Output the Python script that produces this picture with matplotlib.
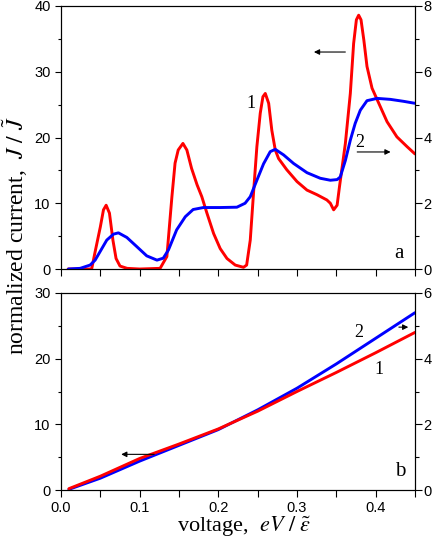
import numpy as np
import matplotlib
matplotlib.use("Agg")
import matplotlib.pyplot as plt
from matplotlib.ticker import MultipleLocator

plt.rcParams['font.family'] = ['Liberation Sans', 'DejaVu Sans']
plt.rcParams['mathtext.fontset'] = 'stix'

# panel a, curve 1 (left axis)
xa_red = [0.009, 0.039, 0.043, 0.050, 0.054, 0.0574, 0.0616, 0.066, 0.070, 0.075, 0.084,
          0.100, 0.126, 0.1346, 0.141, 0.145, 0.149, 0.155, 0.160, 0.166, 0.173, 0.179,
          0.1855, 0.194, 0.2024, 0.211, 0.2215, 0.232, 0.236, 0.2406, 0.245, 0.249,
          0.2533, 0.2567, 0.2597, 0.264, 0.268, 0.2724, 0.2766, 0.287, 0.300, 0.3127,
          0.3254, 0.338, 0.3424, 0.3466, 0.351, 0.354, 0.3615, 0.3678, 0.372, 0.3755,
          0.3784, 0.3814, 0.385, 0.389, 0.3954, 0.404, 0.4145, 0.427, 0.440, 0.450]
ya_red = [0.0, 0.0, 2.4, 6.4, 9.0, 9.7, 8.5, 4.4, 1.6, 0.45, 0.1,
          0.0, 0.1, 1.9, 11.0, 16.1, 18.1, 19.1, 18.1, 15.3, 12.8, 11.0,
          8.5, 5.4, 3.1, 1.6, 0.6, 0.26, 0.6, 4.4, 12.0, 18.6,
          23.7, 26.2, 26.7, 25.2, 21.1, 18.1, 16.8, 15.1, 13.3, 12.0,
          11.3, 10.5, 10.0, 9.0, 9.7, 12.5, 19.1, 26.7, 34.3, 37.9,
          38.6, 37.9, 34.8, 30.8, 27.5, 25.2, 22.4, 20.1, 18.6, 17.5]

# panel a, curve 2 (right axis)
xa_blue = [0.0094, 0.0243, 0.037, 0.0434, 0.0497, 0.0582, 0.0667, 0.073, 0.0837, 0.0964,
           0.109, 0.122, 0.130, 0.1366, 0.147, 0.158, 0.168, 0.181, 0.2024, 0.2236,
           0.234, 0.2406, 0.249, 0.2575, 0.266, 0.2724, 0.283, 0.2957, 0.3127, 0.3296,
           0.3424, 0.351, 0.355, 0.3615, 0.3678, 0.374, 0.3805, 0.389, 0.4018, 0.4187,
           0.4356, 0.450]
ya_blue = [0.0, 0.02, 0.12, 0.27, 0.53, 0.88, 1.06, 1.10, 0.96, 0.68,
           0.40, 0.27, 0.33, 0.58, 1.19, 1.59, 1.81, 1.87, 1.87, 1.88,
           2.0, 2.2, 2.7, 3.2, 3.57, 3.64, 3.47, 3.21, 2.93, 2.76,
           2.70, 2.72, 2.8, 3.3, 3.92, 4.43, 4.83, 5.12, 5.19, 5.16,
           5.10, 5.04]

# panel b
xb = [0.01, 0.05, 0.10, 0.15, 0.20, 0.25, 0.30, 0.35, 0.40, 0.45]
yb_red = [0.2, 2.1, 4.8, 7.0, 9.3, 12.0, 15.0, 17.9, 20.9, 24.0]
yb_blue = [0.02, 0.36, 0.88, 1.36, 1.84, 2.44, 3.1, 3.84, 4.62, 5.4]

RED = '#ff0000'
BLUE = '#0000ff'
serif = 'Liberation Serif'

fig = plt.figure(figsize=(4.36, 5.45), dpi=100)
ax1 = fig.add_axes([0.1399, 0.5064, 0.8119, 0.4826])
ax2 = fig.add_axes([0.1399, 0.1009, 0.8119, 0.3615])
ax1r = ax1.twinx()
ax2r = ax2.twinx()

lkw = dict(lw=2.1, solid_joinstyle='round', solid_capstyle='round')
ax1.plot(xa_red, ya_red, color=RED, **lkw)
ax1r.plot(xa_blue, ya_blue, color=BLUE, **lkw)
ax2r.plot(xb, yb_blue, color=BLUE, **lkw)
ax2.plot(xb, yb_red, color=RED, **lkw)
ax2.set_zorder(ax2r.get_zorder() + 1)
ax2.patch.set_visible(False)

for ax, ymax in [(ax1, 40), (ax2, 30)]:
    ax.set_xlim(0, 0.45)
    ax.set_ylim(0, ymax)
    ax.xaxis.set_major_locator(MultipleLocator(0.1))
    ax.xaxis.set_minor_locator(MultipleLocator(0.05))
    ax.yaxis.set_major_locator(MultipleLocator(10))
    ax.yaxis.set_minor_locator(MultipleLocator(5))
    ax.tick_params(axis='y', which='major', length=4.5, width=0.8, pad=3, labelsize=10.5)
    ax.tick_params(axis='y', which='minor', length=2.5, width=0.8)
    ax.tick_params(axis='x', which='both', length=5, width=0.8, labelsize=10.5, pad=3)

for ax, ymax in [(ax1r, 8), (ax2r, 6)]:
    ax.set_ylim(0, ymax)
    ax.yaxis.set_major_locator(MultipleLocator(2))
    ax.yaxis.set_minor_locator(MultipleLocator(1))
    ax.tick_params(axis='y', which='major', length=5, width=0.8, pad=1, labelsize=10.5)
    ax.tick_params(axis='y', which='minor', length=3, width=0.8)

for ax in [ax1, ax2, ax1r, ax2r]:
    for sp in ax.spines.values():
        sp.set_linewidth(0.8)

ax1.set_xticklabels([])
ax2.set_xticks([0.0, 0.1, 0.2, 0.3, 0.4])
ax2.set_xticklabels(['0.0', '0.1', '0.2', '0.3', '0.4'])

arr = dict(arrowstyle='-|>', color='black', lw=0.8, mutation_scale=8)
ax1.annotate('', xy=(0.318, 33.0), xytext=(0.365, 33.0), arrowprops=arr)
ax1.annotate('', xy=(0.4225, 17.8), xytext=(0.373, 17.8), arrowprops=arr)
ax1.text(0.242, 25.1, '1', family=serif, fontsize=13, ha='center', va='center')
ax1.text(0.380, 19.2, '2', family=serif, fontsize=13, ha='center', va='center')
ax1.text(0.429, 2.4, 'a', family=serif, fontsize=15, ha='center', va='center')

ax2.annotate('', xy=(0.073, 5.43), xytext=(0.122, 5.43), arrowprops=arr)
ax2.annotate('', xy=(0.445, 24.8), xytext=(0.426, 24.8), arrowprops=arr)
ax2.text(0.378, 24.05, '2', family=serif, fontsize=13, ha='center', va='center')
ax2.text(0.4045, 18.4, '1', family=serif, fontsize=13, ha='center', va='center')
ax2.text(0.431, 2.8, 'b', family=serif, fontsize=15, ha='center', va='center')

fig.text(0.036, 1 - 236 / 545, r'normalized current,  $J\ /\ \tilde{J}$',
         family=serif, fontsize=17, rotation=90, ha='center', va='center')
fig.text(0.56, 1 - 532 / 545, r'voltage,  $eV\ /\ \tilde{\varepsilon}$',
         family=serif, fontsize=16, ha='center', va='baseline')

fig.savefig('out.png', dpi=100)
